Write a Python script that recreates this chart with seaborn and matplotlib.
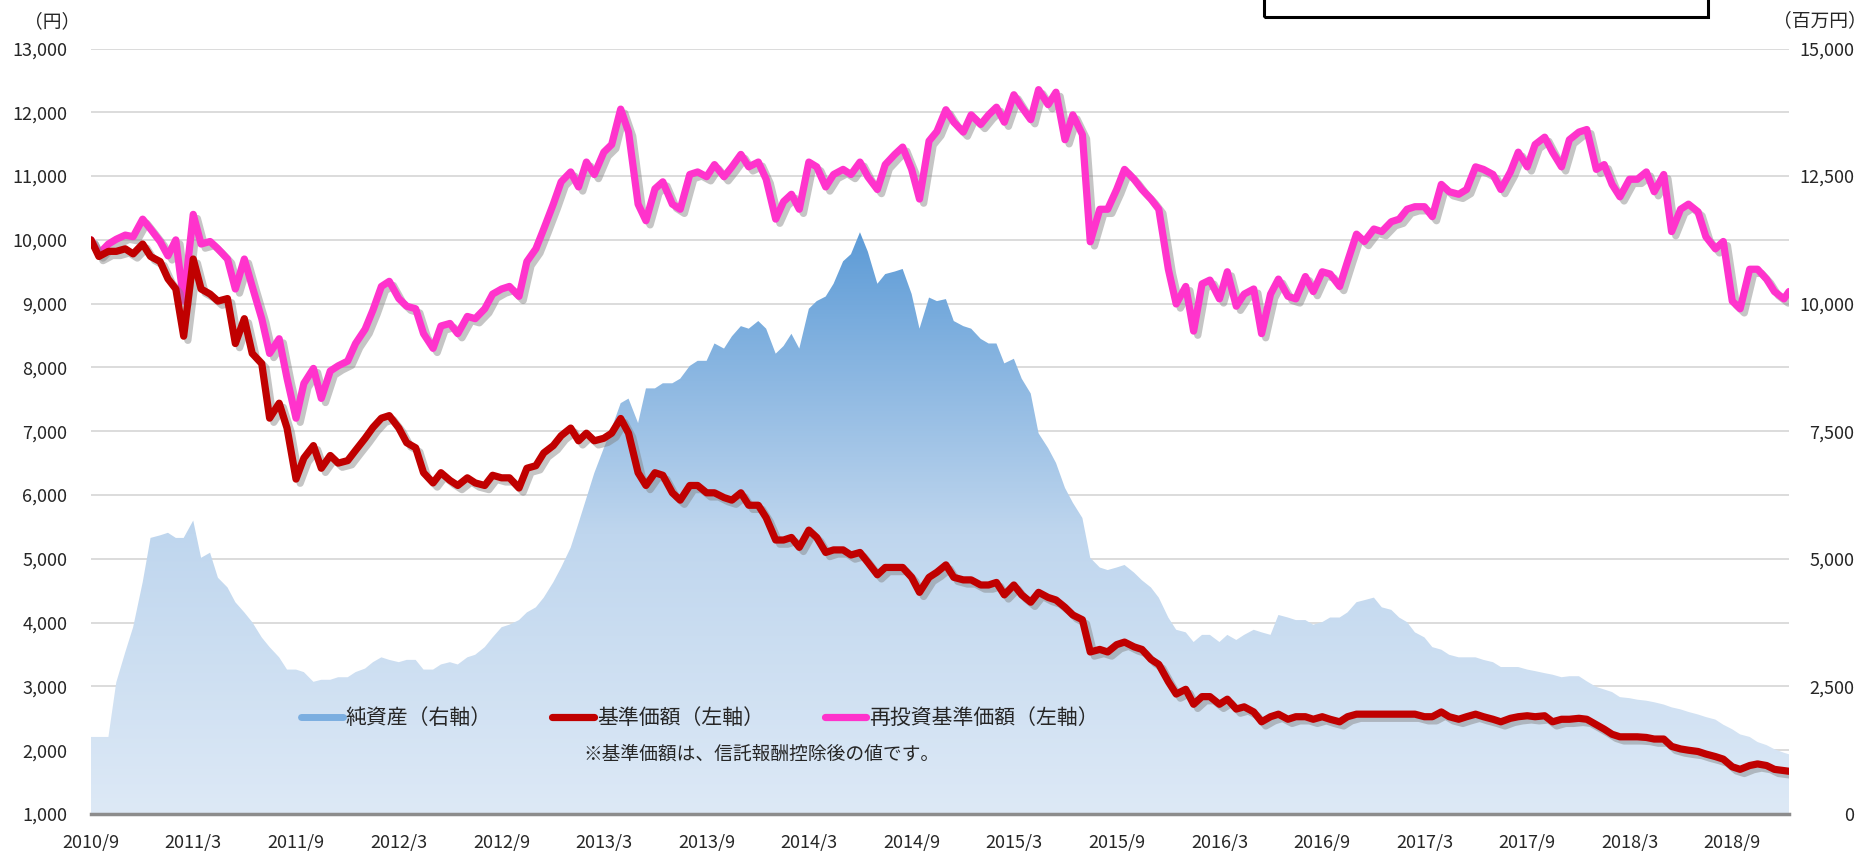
import numpy as np
import pandas as pd
import seaborn as sns
import matplotlib
matplotlib.use("Agg")
import matplotlib.pyplot as plt
import matplotlib.dates as mdates
import matplotlib.patheffects as pe
from matplotlib.colors import LinearSegmentedColormap
from matplotlib.lines import Line2D
from matplotlib.patches import Rectangle

# ---------------- data (half-month steps) ---------------- #
dates = list(pd.date_range("2010-10-01", periods=199, freq="SMS")) + [pd.Timestamp("2019-01-10")]

# 再投資基準価額 (円)
reinvest = [
    10000, 9780, 9935, 10010, 10075, 10050, 10325, 10170, 9975, 9750,
    10000, 9040, 10400, 9935, 9975, 9860, 9700, 9230, 9700, 9270,
    8765, 8220, 8450, 7830, 7205, 7750, 7985, 7515, 7945, 8025,
    8100, 8375, 8600, 8900, 9270, 9350, 9080, 8960, 8920, 8530,
    8300, 8650, 8690, 8530, 8800, 8765, 8920, 9150, 9230, 9270,
    9115, 9660, 9860, 10170, 10560, 10910, 11065, 10830, 11220, 11025,
    11375, 11495, 12050, 11690, 10560, 10300, 10800, 10910, 10560, 10480,
    11025, 11065, 10990, 11180, 10990, 11145, 11340, 11145, 11220, 10950,
    10325, 10600, 10715, 10480, 11220, 11145, 10830, 11025, 11105, 11025,
    11220, 10990, 10790, 11180, 11340, 11455, 11105, 10640, 11550, 11700,
    12040, 11845, 11690, 11960, 11810, 11960, 12080, 11845, 12275, 12080,
    11885, 12355, 12120, 12315, 11570, 11960, 11650, 9970, 10480, 10480,
    10790, 11105, 10950, 10790, 10640, 10480, 9540, 8995, 9270, 8570,
    9310, 9370, 9075, 9500, 8960, 9150, 9230, 8530, 9150, 9385,
    9115, 9075, 9425, 9190, 9500, 9465, 9270, 9660, 10090, 9975,
    10170, 10130, 10285, 10325, 10480, 10520, 10520, 10365, 10870, 10755,
    10715, 10790, 11145, 11105, 11025, 10790, 11065, 11375, 11145, 11495,
    11610, 11375, 11145, 11570, 11690, 11730, 11105, 11180, 10870, 10675,
    10950, 10950, 11065, 10755, 11025, 10130, 10480, 10560, 10440, 10050,
    9860, 9975, 9040, 8920, 9540, 9540, 9385, 9190, 9075, 9190,
]

# 基準価額 (円)
nav = [
    10000, 9740, 9820, 9820, 9860, 9780, 9935, 9740, 9660, 9390,
    9230, 8490, 9700, 9230, 9150, 9040, 9080, 8375, 8765, 8220,
    8060, 7205, 7440, 7050, 6250, 6580, 6775, 6420, 6620, 6500,
    6540, 6700, 6890, 7060, 7205, 7245, 7050, 6820, 6740, 6350,
    6190, 6350, 6230, 6150, 6270, 6190, 6150, 6310, 6270, 6270,
    6110, 6420, 6460, 6660, 6775, 6930, 7050, 6850, 6970, 6850,
    6890, 6970, 7200, 6970, 6350, 6150, 6350, 6310, 6035, 5920,
    6150, 6150, 6035, 6035, 5960, 5920, 6035, 5840, 5840, 5645,
    5295, 5295, 5335, 5180, 5450, 5335, 5100, 5140, 5140, 5060,
    5100, 4945, 4750, 4865, 4865, 4865, 4710, 4475, 4710, 4790,
    4905, 4710, 4670, 4670, 4590, 4590, 4630, 4435, 4590, 4435,
    4320, 4475, 4395, 4355, 4240, 4120, 4045, 3540, 3580, 3540,
    3655, 3695, 3620, 3580, 3425, 3345, 3075, 2880, 2955, 2720,
    2840, 2840, 2720, 2800, 2645, 2680, 2600, 2445, 2525, 2565,
    2485, 2525, 2525, 2485, 2525, 2485, 2445, 2525, 2565, 2565,
    2565, 2565, 2565, 2565, 2565, 2565, 2525, 2525, 2600, 2525,
    2485, 2525, 2565, 2525, 2485, 2445, 2500, 2525, 2540, 2525,
    2540, 2445, 2485, 2485, 2500, 2485, 2400, 2330, 2250, 2210,
    2210, 2210, 2200, 2175, 2175, 2060, 2020, 2000, 1980, 1940,
    1900, 1860, 1740, 1700, 1760, 1785, 1760, 1700, 1680, 1670,
]

# 純資産 (百万円)
assets = [
    1510, 1510, 1510, 2580, 3170, 3660, 4540, 5410, 5460, 5510,
    5410, 5410, 5750, 5020, 5120, 4630, 4440, 4150, 3950, 3760,
    3460, 3270, 3070, 2830, 2830, 2780, 2590, 2630, 2630, 2680,
    2680, 2780, 2850, 2975, 3070, 3020, 2975, 3020, 3020, 2830,
    2830, 2930, 2975, 2930, 3070, 3120, 3270, 3460, 3660, 3710,
    3800, 3950, 4050, 4240, 4540, 4830, 5220, 5700, 6190, 6680,
    7170, 7560, 8050, 8140, 7660, 8340, 8340, 8440, 8440, 8530,
    8780, 8880, 8880, 9220, 9120, 9360, 9560, 9510, 9660, 9510,
    9020, 9170, 9410, 9120, 9900, 10050, 10140, 10390, 10830, 10970,
    11400, 11020, 10390, 10580, 10630, 10680, 10190, 9510, 10120, 10050,
    10090, 9660, 9560, 9510, 9310, 9220, 9220, 8830, 8920, 8530,
    8240, 7460, 7170, 6880, 6390, 6100, 5800, 5020, 4830, 4780,
    4830, 4880, 4730, 4580, 4440, 4240, 3850, 3610, 3560, 3370,
    3510, 3510, 3370, 3510, 3410, 3510, 3610, 3560, 3510, 3900,
    3850, 3800, 3800, 3710, 3760, 3850, 3850, 3950, 4150, 4190,
    4240, 4050, 4000, 3850, 3760, 3560, 3460, 3270, 3220, 3120,
    3070, 3070, 3070, 3020, 2975, 2880, 2880, 2880, 2830, 2800,
    2760, 2730, 2680, 2700, 2700, 2600, 2490, 2440, 2390, 2290,
    2270, 2240, 2220, 2190, 2145, 2090, 2050, 2000, 1950, 1900,
    1850, 1750, 1660, 1560, 1510, 1410, 1350, 1270, 1200, 1170,
]

tick_dates = pd.date_range("2010-10-01", "2018-10-01", freq="6MS")
tick_labels = ["2010/9", "2011/3", "2011/9", "2012/3", "2012/9", "2013/3", "2013/9",
               "2014/3", "2014/9", "2015/3", "2015/9", "2016/3", "2016/9", "2017/3",
               "2017/9", "2018/3", "2018/9"]
left_ticks = list(range(1000, 13001, 1000))
right_ticks = list(range(0, 15001, 2500))
legend_labels = ["純資産（右軸）", "基準価額（左軸）", "再投資基準価額（左軸）"]

# ---------------- style ---------------- #
sns.set_style("white")
plt.rcParams["font.family"] = ["Noto Sans CJK JP", "DejaVu Sans"]

RED = "#C00000"
PINK = "#FF33CC"
GRID = "#D9D9D9"
LW = 5.2

df = pd.DataFrame({"date": dates, "nav": nav, "reinvest": reinvest, "assets": assets})

W, H = 1864, 851
fig = plt.figure(figsize=(W / 100, H / 100), dpi=100)
L, R, T, B = 91, 1789, 48.5, 814
ax = fig.add_axes([L / W, 1 - B / H, (R - L) / W, (B - T) / H])
ax2 = ax.twinx()
ax.set_zorder(2)
ax2.set_zorder(1)
ax.patch.set_visible(False)

# ---------------- net assets: gradient area on right axis ---------------- #
poly = ax2.fill_between(df["date"], 0, df["assets"], facecolor="none", edgecolor="none")
cmap = LinearSegmentedColormap.from_list(
    "area", [(0.0, "#DDE9F6"), (5500 / 11500, "#BFD6EE"), (1.0, "#5B9AD6")])
xn = mdates.date2num(df["date"])
grad = np.linspace(0, 11500, 256).reshape(-1, 1)
img = ax2.imshow(grad, extent=[xn[0], xn[-1], 0, 11500], origin="lower",
                 aspect="auto", cmap=cmap, vmin=0, vmax=11500, zorder=2)
img.set_clip_path(poly.get_paths()[0], transform=ax2.transData)

# ---------------- price lines on left axis ---------------- #
shadow = [pe.SimpleLineShadow(offset=(3, -3), shadow_color="#7f7f7f", alpha=0.45),
          pe.Normal()]
sns.lineplot(data=df, x="date", y="reinvest", ax=ax, color=PINK, linewidth=LW)
sns.lineplot(data=df, x="date", y="nav", ax=ax, color=RED, linewidth=LW)
for ln in ax.lines:
    ln.set_solid_joinstyle("round")
    ln.set_solid_capstyle("round")
    ln.set_path_effects(shadow)

# ---------------- axes ---------------- #
ax.set_xlim(df["date"].iloc[0], df["date"].iloc[-1])
ax.set_ylim(1000, 13000)
ax2.set_ylim(0, 15000)

ax.set_yticks(left_ticks)
ax.set_yticklabels([f"{v:,}" for v in left_ticks])
ax2.set_yticks(right_ticks)
ax2.set_yticklabels([f"{v:,}" for v in right_ticks])
ax2.set_yticks([v + 1250 for v in right_ticks[:-1]], minor=True)
ax.set_xticks(tick_dates)
ax.set_xticklabels(tick_labels)

ax.set_xlabel("")
ax.set_ylabel("")
ax2.set_ylabel("")
ax.grid(False)
ax2.grid(True, which="both", axis="y", color=GRID, linewidth=1.3)
ax2.grid(False, axis="x")

ax.tick_params(axis="y", length=0, pad=17, labelsize=13)
ax.tick_params(axis="x", length=0, pad=14, labelsize=13)
ax2.tick_params(axis="y", which="both", length=0, pad=47, labelsize=13)
for lbl in ax2.get_yticklabels():
    lbl.set_horizontalalignment("right")

for a in (ax, ax2):
    for s in a.spines.values():
        s.set_visible(False)
ax.spines["bottom"].set_visible(True)
ax.spines["bottom"].set_color("#8C8C8C")
ax.spines["bottom"].set_linewidth(2.5)

# ---------------- legend and notes ---------------- #
handles = [Line2D([], [], color="#7BAEE0", linewidth=5),
           Line2D([], [], color=RED, linewidth=LW),
           Line2D([], [], color=PINK, linewidth=LW)]
fig.legend(handles, legend_labels, loc="center", bbox_to_anchor=(0.3756, 1 - 718 / H),
           ncol=3, frameon=False, fontsize=15, handlelength=2.0,
           handletextpad=0.15, columnspacing=2.9)
fig.text(761 / W, 1 - 754 / H, "※基準価額は、信託報酬控除後の値です。",
         ha="center", va="center", fontsize=13.5)

fig.text(52 / W, 1 - 22 / H, "（円）", ha="center", va="center", fontsize=13.5)
fig.text(1820 / W, 1 - 21 / H, "（百万円）", ha="center", va="center", fontsize=13.5)

# empty framed box at the top
fig.patches.append(Rectangle((1264 / W, 1 - 17 / H), (1708 - 1264) / W, 0.1,
                             transform=fig.transFigure, fill=False,
                             edgecolor="black", linewidth=2.2))

fig.savefig("out.png", dpi=100)
